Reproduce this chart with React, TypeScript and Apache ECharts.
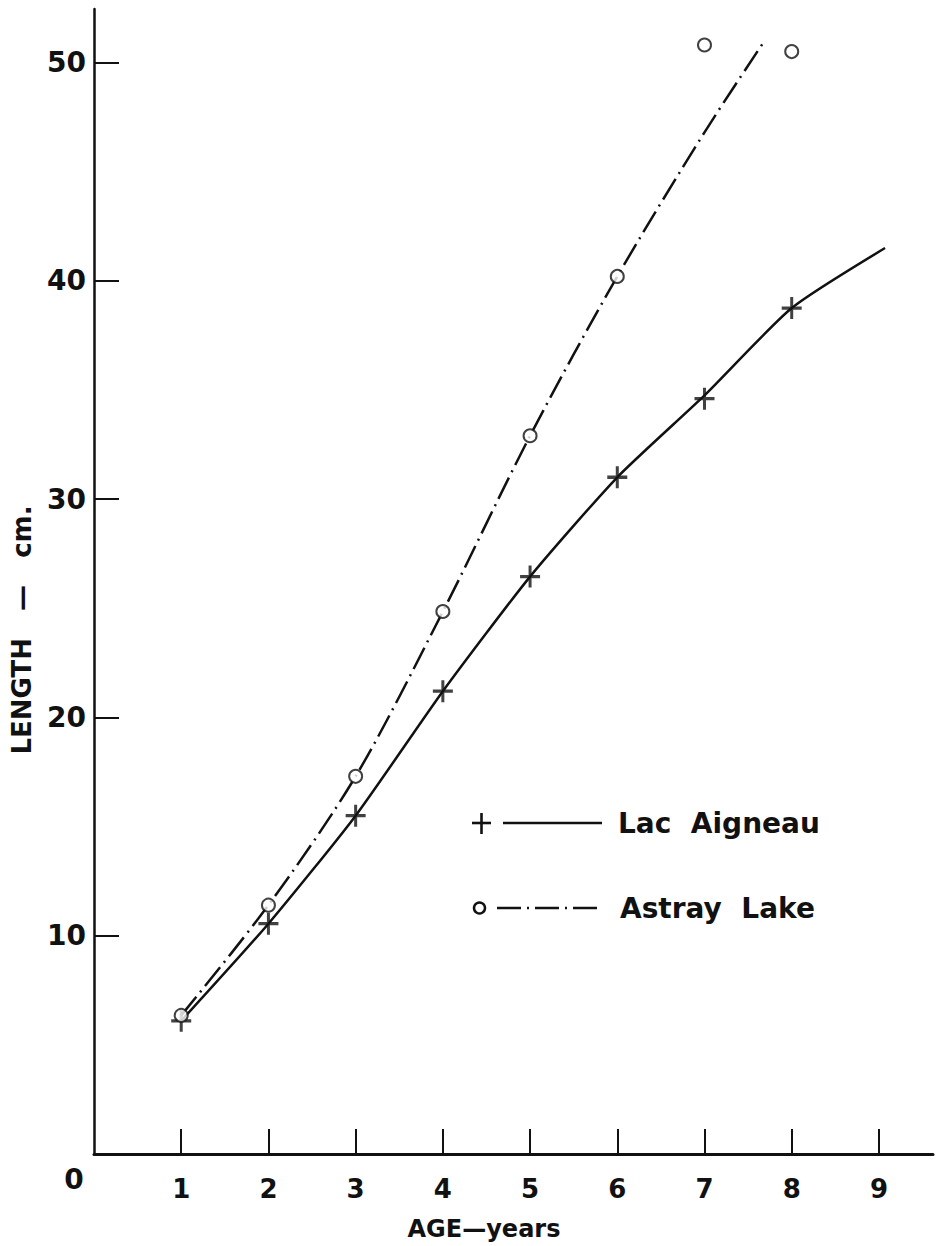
import React, { useEffect, useRef } from "react";
import * as echarts from "echarts";

// Observed points (age in years, length in cm)
const ages = [1, 2, 3, 4, 5, 6, 7, 8];
const lacAigneau = [6.1, 10.55, 15.5, 21.2, 26.45, 31.0, 34.6, 38.75];
const astrayLake = [6.35, 11.4, 17.3, 24.85, 32.9, 40.2, 50.8, 50.5];

// Fitted growth curves (knots)
const lacCurveAges = [1, 2, 3, 4, 5, 6, 7, 8, 9.07];
const lacCurveLengths = [6.1, 10.55, 15.5, 21.2, 26.45, 31.0, 34.75, 38.75, 41.5];
const astrayCurveAges = [1, 2, 3, 4, 5, 6, 7, 7.69];
const astrayCurveLengths = [6.35, 11.4, 17.3, 24.85, 32.9, 40.2, 46.8, 51.0];

// Tick values
const xTicks = [1, 2, 3, 4, 5, 6, 7, 8, 9];
const yTicks = [10, 20, 30, 40, 50];

const INK = "#111";
const FONT = "DejaVu Sans";
const DASHDOT = [24, 6, 2, 6];
const PLUS =
  "path://M8.5,0 h3 v8.5 h8.5 v3 h-8.5 v8.5 h-3 v-8.5 h-8.5 v-3 h8.5 z";

export default function App() {
  const ref = useRef<HTMLDivElement>(null);

  useEffect(() => {
    document.body.style.margin = "0";
    const chart = echarts.init(ref.current!, null, { renderer: "svg" });
    const zip = (xs: number[], ys: number[]) => xs.map((x, i) => [x, ys[i]]);
    const txt = (text: string, size: number, align: string) => ({
      text,
      fill: INK,
      fontFamily: FONT,
      fontWeight: "bold",
      fontSize: size,
      align,
      verticalAlign: "middle",
    });

    chart.setOption({
      animation: false,
      backgroundColor: "#fff",
      grid: { left: 94, right: 4, top: 9, bottom: 92, containLabel: false },
      xAxis: {
        type: "value",
        min: 0,
        max: 9.62,
        interval: 1,
        axisLine: { show: true, lineStyle: { color: INK, width: 3 } },
        axisTick: {
          show: true,
          inside: true,
          length: 25,
          customValues: xTicks,
          lineStyle: { color: INK, width: 2 },
        },
        axisLabel: {
          customValues: xTicks,
          margin: 22,
          color: INK,
          fontFamily: FONT,
          fontWeight: "bold",
          fontSize: 26,
        },
        splitLine: { show: false },
      },
      yAxis: {
        type: "value",
        min: 0,
        max: 52.45,
        interval: 10,
        axisLine: { show: true, lineStyle: { color: INK, width: 2.5 } },
        axisTick: {
          show: true,
          inside: true,
          length: 25,
          customValues: yTicks,
          lineStyle: { color: INK, width: 2 },
        },
        axisLabel: {
          customValues: yTicks,
          margin: 8,
          color: INK,
          fontFamily: FONT,
          fontWeight: "bold",
          fontSize: 28,
        },
        splitLine: { show: false },
      },
      graphic: [
        { type: "text", x: 74, y: 1179, style: txt("0", 28, "center") },
        { type: "text", x: 484, y: 1229, style: txt("AGE—years", 24, "center") },
        {
          type: "text",
          x: 22,
          y: 630,
          rotation: Math.PI / 2,
          style: txt("LENGTH   —   cm.", 26, "center"),
        },
        // Legend: Lac Aigneau
        {
          type: "line",
          shape: { x1: 472, y1: 823, x2: 491, y2: 823 },
          style: { stroke: INK, lineWidth: 2.6 },
        },
        {
          type: "line",
          shape: { x1: 481.5, y1: 813, x2: 481.5, y2: 834 },
          style: { stroke: INK, lineWidth: 2.6 },
        },
        {
          type: "line",
          shape: { x1: 503, y1: 823, x2: 602, y2: 823 },
          style: { stroke: INK, lineWidth: 2.5 },
        },
        { type: "text", x: 618, y: 823, style: txt("Lac  Aigneau", 28, "left") },
        // Legend: Astray Lake
        {
          type: "circle",
          shape: { cx: 479.5, cy: 908, r: 5.5 },
          style: { stroke: INK, lineWidth: 2.5, fill: "#fff" },
        },
        {
          type: "line",
          shape: { x1: 497, y1: 908, x2: 602, y2: 908 },
          style: { stroke: INK, lineWidth: 2.5, lineDash: DASHDOT },
        },
        { type: "text", x: 620, y: 908, style: txt("Astray  Lake", 28, "left") },
      ],
      series: [
        {
          name: "Lac Aigneau curve",
          type: "line",
          smooth: 0.2,
          showSymbol: false,
          data: zip(lacCurveAges, lacCurveLengths),
          lineStyle: { color: INK, width: 2.5 },
          z: 2,
        },
        {
          name: "Astray Lake curve",
          type: "line",
          smooth: 0.3,
          showSymbol: false,
          data: zip(astrayCurveAges, astrayCurveLengths),
          lineStyle: { color: INK, width: 2.5, type: DASHDOT },
          z: 2,
        },
        {
          name: "Lac Aigneau",
          type: "scatter",
          symbol: PLUS,
          symbolSize: [20, 22],
          data: zip(ages, lacAigneau),
          itemStyle: { color: INK },
          z: 3,
        },
        {
          name: "Astray Lake",
          type: "scatter",
          symbol: "emptyCircle",
          symbolSize: 13,
          data: zip(ages, astrayLake),
          itemStyle: { color: INK, borderColor: INK, borderWidth: 2.5 },
          z: 4,
        },
      ],
    });

    return () => chart.dispose();
  }, []);

  return <div ref={ref} style={{ width: 937, height: 1246 }} />;
}
